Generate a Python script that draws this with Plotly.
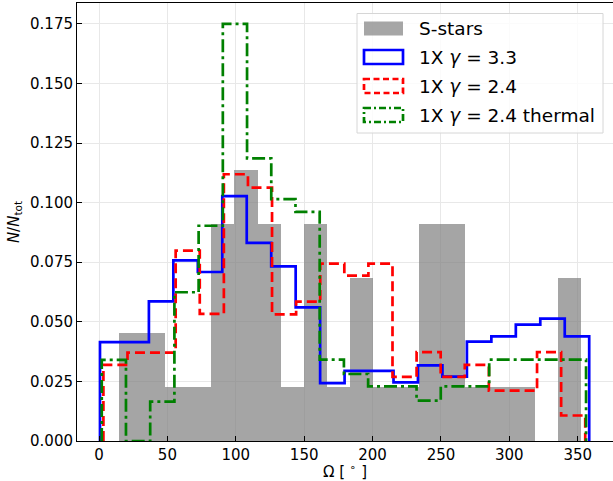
import numpy as np
import plotly.graph_objects as go

# ---------------- data ----------------
n_bins = 20
# S-stars histogram (counts per bin, total 44 stars)
sstar_range = [14.6, 352.4]
sstar_counts = [2, 2, 1, 1, 4, 5, 4, 1, 4, 1, 3, 1, 1, 4, 4, 1, 1, 1, 0, 3]

# 1X gamma = 3.3 (normalised step histogram)
g33_range = [0.7, 358.4]
g33_vals = [0.0415, 0.0415, 0.0586, 0.0758, 0.0709, 0.1027, 0.0831, 0.0733, 0.0561, 0.0243,
            0.0294, 0.0294, 0.0246, 0.0317, 0.0270, 0.0417, 0.0439, 0.0488, 0.0513, 0.0439]

# 1X gamma = 2.4
g24_range = [3.2, 355.5]
g24_vals = [0.0319, 0.0371, 0.0371, 0.0799, 0.0533, 0.1119, 0.1063, 0.0531, 0.0585, 0.0744,
            0.0694, 0.0744, 0.0269, 0.0373, 0.0269, 0.0319, 0.0211, 0.0211, 0.0373, 0.0107]

# 1X gamma = 2.4 thermal
g24t_range = [2.0, 356.1]
g24t_vals = [0.0340, 0.0, 0.0165, 0.0624, 0.0903, 0.1750, 0.1186, 0.1015, 0.0961, 0.0341,
             0.0281, 0.0229, 0.0229, 0.0169, 0.0229, 0.0229, 0.0341, 0.0341, 0.0341, 0.0341]

x_ticks = [0, 50, 100, 150, 200, 250, 300, 350]
y_ticks = [0.0, 0.025, 0.05, 0.075, 0.1, 0.125, 0.15, 0.175]

FONT = "DejaVu Sans"
TICK_SIZE = 15
LEG_SIZE = 18.5

fig = go.Figure()

# gray bars
edges = np.linspace(sstar_range[0], sstar_range[1], n_bins + 1)
centers = 0.5 * (edges[:-1] + edges[1:])
width = edges[1] - edges[0]
n_tot = sum(sstar_counts)
fig.add_trace(go.Bar(
    x=centers, y=[c / n_tot for c in sstar_counts], width=width,
    marker=dict(color="rgb(128,128,128)", line=dict(width=0)),
    opacity=0.7, name="S-stars", showlegend=False,
))


def step_trace(rng, vals, color, dash, name):
    e = np.linspace(rng[0], rng[1], n_bins + 1)
    xs = [e[0]] + list(e) + [e[-1]]
    ys = [0.0] + list(vals) + [vals[-1], 0.0]
    return go.Scatter(x=xs, y=ys, mode="lines", line_shape="hv",
                      line=dict(color=color, width=2.7, dash=dash),
                      name=name, showlegend=False)


DASH_R = "10px,5px"
DASH_G = "13px,4px,3px,4px"
fig.add_trace(step_trace(g33_range, g33_vals, "#0000ff", "solid", "1X γ = 3.3"))
fig.add_trace(step_trace(g24_range, g24_vals, "#ff0000", DASH_R, "1X γ = 2.4"))
fig.add_trace(step_trace(g24t_range, g24t_vals, "#008000", DASH_G, "1X γ = 2.4 thermal"))

# ---------------- layout ----------------
L, R, T, B = 77, 0, 3, 40
W, H = 613, 481
PW, PH = W - L - R, H - T - B


def px(x):
    return (x - L) / PW


def py(y):
    return (H - B - y) / PH


shapes = []
annotations = []
# legend box
shapes.append(dict(type="rect", xref="paper", yref="paper",
                   x0=px(357), x1=px(603), y0=py(13.5), y1=py(133),
                   line=dict(color="#d6d6d6", width=1),
                   fillcolor="rgba(255,255,255,0.8)", layer="above"))
legend_items = [
    ("S-stars", dict(fillcolor="rgba(128,128,128,0.7)", line=dict(width=0)), 28.5),
    ("1X <i>γ</i> = 3.3", dict(fillcolor="rgba(0,0,0,0)", line=dict(color="#0000ff", width=2.7)), 57.0),
    ("1X <i>γ</i> = 2.4", dict(fillcolor="rgba(0,0,0,0)", line=dict(color="#ff0000", width=2.7, dash="6px,3.5px")), 86.0),
    ("1X <i>γ</i> = 2.4 thermal", dict(fillcolor="rgba(0,0,0,0)", line=dict(color="#008000", width=2.7, dash="7px,3px,2px,3px")), 115.0),
]
for text, style, yc in legend_items:
    s = dict(type="rect", xref="paper", yref="paper",
             x0=px(364), x1=px(403), y0=py(yc - 7), y1=py(yc + 7), layer="above")
    s.update(style)
    shapes.append(s)
    annotations.append(dict(text=text, xref="paper", yref="paper",
                            x=px(417), y=py(yc), xanchor="left", yanchor="middle",
                            showarrow=False, font=dict(family=FONT, size=LEG_SIZE, color="black")))

fig.update_layout(
    width=W, height=H,
    margin=dict(l=L, r=R, t=T, b=B, pad=0),
    paper_bgcolor="white", plot_bgcolor="white",
    font=dict(family=FONT, size=TICK_SIZE, color="black"),
    bargap=0,
    shapes=shapes, annotations=annotations,
    xaxis=dict(
        range=[-16.1, 375.8], tickvals=x_ticks, ticktext=[str(v) for v in x_ticks],
        ticks="inside", ticklen=5, tickwidth=1, tickcolor="black",
        showline=True, linecolor="black", linewidth=1, mirror=True,
        showgrid=True, gridcolor="#e8e8e8", gridwidth=1, zeroline=False,
        tickfont=dict(family=FONT, size=TICK_SIZE),
        title=dict(text="Ω [ <sup>∘</sup> ]", font=dict(family=FONT, size=TICK_SIZE), standoff=4),
    ),
    yaxis=dict(
        range=[0, 0.18375], tickvals=y_ticks, ticktext=[f"{v:.3f}" for v in y_ticks],
        ticks="inside", ticklen=5, tickwidth=1, tickcolor="black",
        showline=True, linecolor="black", linewidth=1, mirror=False,
        showgrid=True, gridcolor="#e8e8e8", gridwidth=1, zeroline=False,
        tickfont=dict(family=FONT, size=TICK_SIZE),
        title=dict(text="<i>N</i>/<i>N</i><sub>tot</sub>", font=dict(family=FONT, size=TICK_SIZE), standoff=6),
    ),
)

fig.write_html("out.html")
